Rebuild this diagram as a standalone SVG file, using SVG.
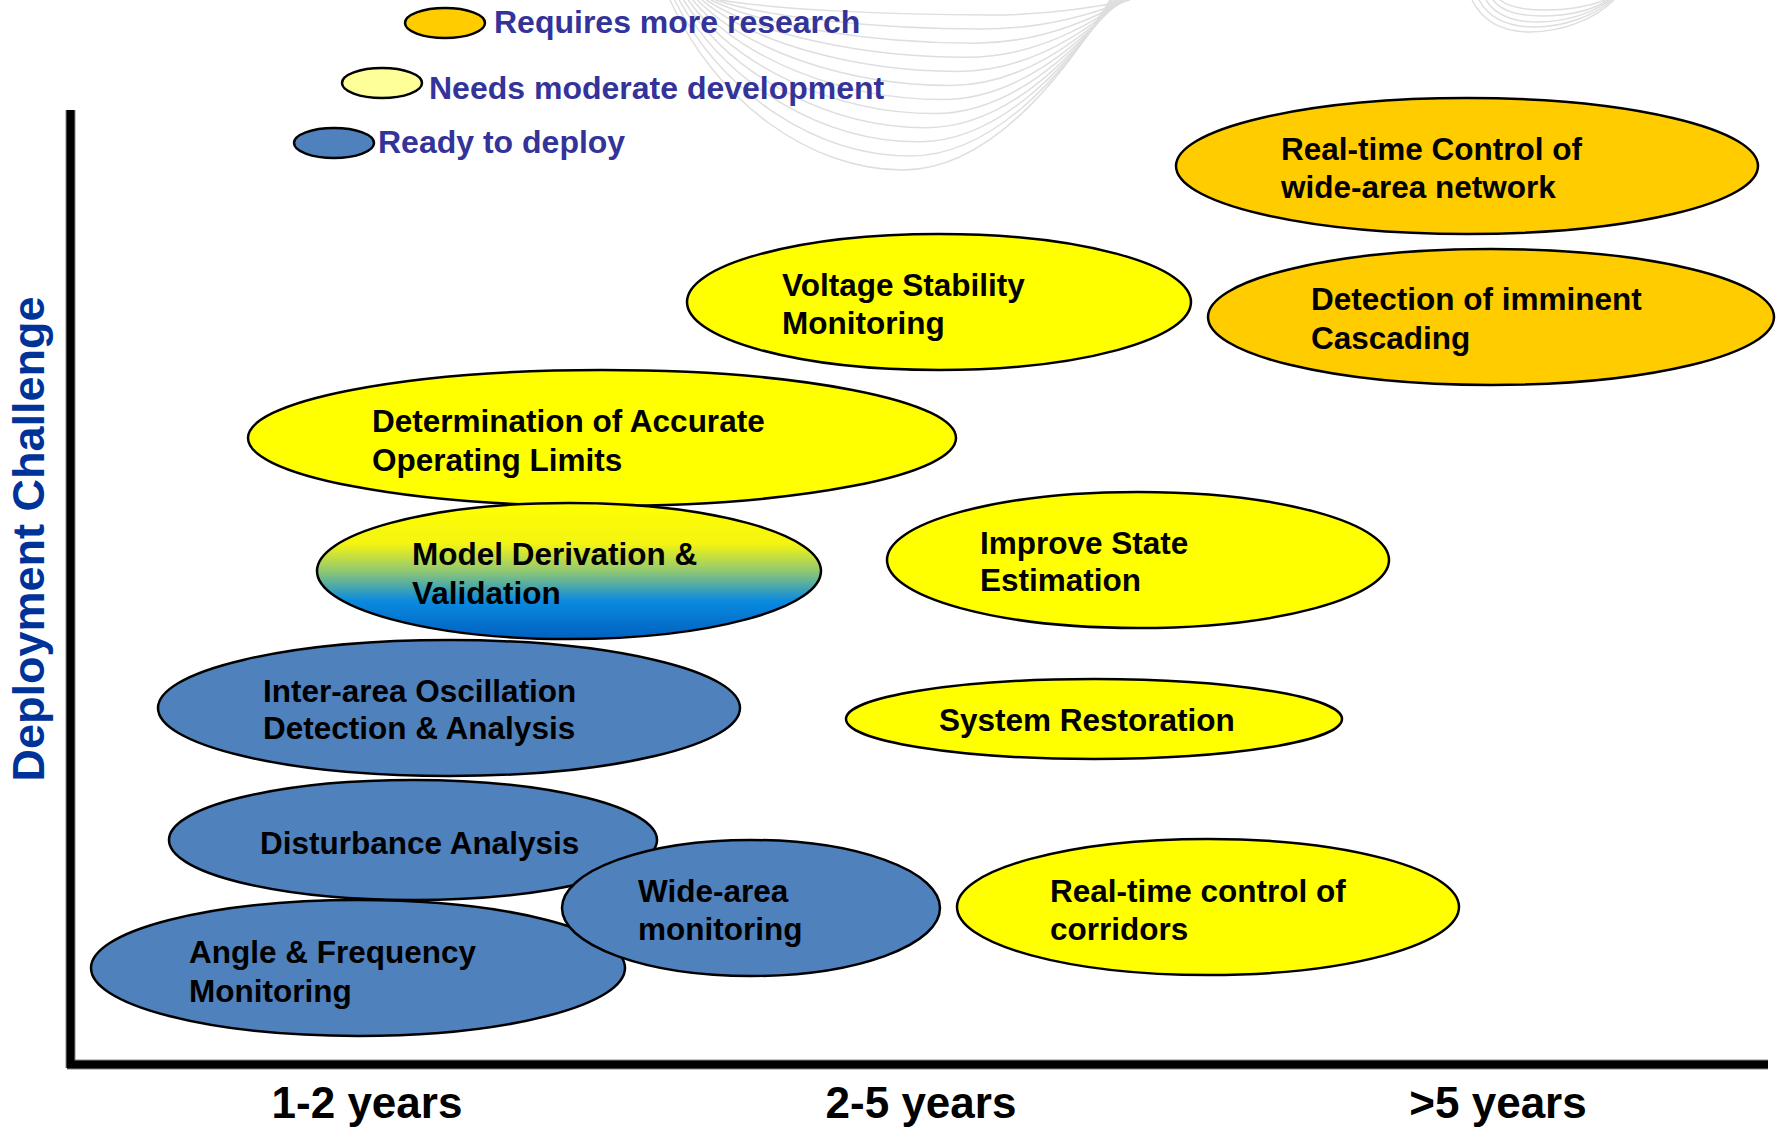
<svg xmlns="http://www.w3.org/2000/svg" width="1783" height="1128" viewBox="0 0 1783 1128">
<defs>
<style>
.bg{fill:none;stroke:#dedede;stroke-width:1.5}
.node ellipse{stroke:#000;stroke-width:2.5}
.blue{fill:#4F81BD}
.yel{fill:#FFFF00}
.org{fill:#FFCC00}
.pale{fill:#FFFF99}
.lbl{font-family:"Liberation Sans",Arial,sans-serif;font-weight:bold;font-size:31.5px;fill:#000}
.leg{font-family:"Liberation Sans",Arial,sans-serif;font-weight:bold;font-size:32px;fill:#333399}
.ax{font-family:"Liberation Sans",Arial,sans-serif;font-weight:bold;font-size:44px;fill:#000;text-anchor:middle}
</style>
<linearGradient id="gmix" x1="0" y1="0" x2="0" y2="1">
<stop offset="0" stop-color="#FFFF00"/>
<stop offset="0.3" stop-color="#F4F412"/>
<stop offset="0.5" stop-color="#90C872"/>
<stop offset="0.72" stop-color="#0A8AE0"/>
<stop offset="1" stop-color="#0060C0"/>
</linearGradient>
</defs>
<rect width="1783" height="1128" fill="#fff"/>
<g id="background-lines">
<path class="bg" d="M720,0 C774,9 882,15 990,15 C1046,15 1095,7.5 1130,0"/>
<path class="bg" d="M715.5,0 C768.8,17.5 875.5,29.1 982.1,29.1 C1040.5,29.1 1091.7,14.6 1128.2,0"/>
<path class="bg" d="M710.9,0 C763.6,25.9 868.9,43.2 974.2,43.2 C1035.1,43.2 1088.4,21.6 1126.4,0"/>
<path class="bg" d="M706.4,0 C758.4,34.4 862.3,57.3 966.3,57.3 C1029.6,57.3 1085,28.7 1124.5,0"/>
<path class="bg" d="M701.8,0 C753.1,42.8 855.8,71.4 958.4,71.4 C1024.1,71.4 1081.6,35.7 1122.7,0"/>
<path class="bg" d="M697.3,0 C747.9,51.3 849.2,85.5 950.5,85.5 C1018.7,85.5 1078.3,42.8 1120.9,0"/>
<path class="bg" d="M692.7,0 C742.7,59.7 842.6,99.5 942.5,99.5 C1013.1,99.5 1075,49.8 1119.1,0"/>
<path class="bg" d="M688.2,0 C737.5,68.2 836,113.6 934.6,113.6 C1007.7,113.6 1071.6,56.8 1117.3,0"/>
<path class="bg" d="M683.6,0 C732.2,76.6 829.5,127.7 926.7,127.7 C1002.2,127.7 1068.3,63.9 1115.5,0"/>
<path class="bg" d="M679.1,0 C727,85.1 822.9,141.8 918.8,141.8 C996.7,141.8 1064.9,70.9 1113.6,0"/>
<path class="bg" d="M674.5,0 C721.8,93.5 816.3,155.9 910.9,155.9 C991.3,155.9 1061.6,78 1111.8,0"/>
<path class="bg" d="M670,0 C716.6,102 809.8,170 903,170 C985.8,170 1058.3,85 1110,0"/>
<path class="bg" d="M1500,0 C1510,8 1530,10 1545,10 C1570,10 1590,6 1605,0"/>
<path class="bg" d="M1493,0 C1503,13 1525,16 1542,16 C1568,16 1592,10 1608,0"/>
<path class="bg" d="M1486,0 C1497,18 1520,22 1538,22 C1566,22 1593,13 1610,0"/>
<path class="bg" d="M1479,0 C1491,22 1515,27 1534,27 C1564,27 1594,16 1612,0"/>
<path class="bg" d="M1472,0 C1485,26 1510,32 1530,32 C1562,32 1595,19 1614,0"/>
</g>
<g id="legend">
<g id="legend-research" class="node"><ellipse class="org" cx="445" cy="23" rx="40" ry="15"/><text class="leg" x="494" y="33">Requires more research</text></g>
<g id="legend-moderate" class="node"><ellipse class="pale" cx="382" cy="83" rx="40" ry="15"/><text class="leg" x="429" y="99">Needs moderate development</text></g>
<g id="legend-ready" class="node"><ellipse class="blue" cx="334" cy="143" rx="40" ry="15"/><text class="leg" x="378" y="153">Ready to deploy</text></g>
</g>
<g id="axes">
<line x1="70.5" y1="110" x2="70.5" y2="1068" stroke="#888" stroke-width="10"/>
<line x1="67" y1="1064.5" x2="1768" y2="1064.5" stroke="#888" stroke-width="10"/>
<line x1="70.5" y1="110" x2="70.5" y2="1068" stroke="#000" stroke-width="8"/>
<line x1="67" y1="1064.5" x2="1768" y2="1064.5" stroke="#000" stroke-width="8"/>
<text class="ax" x="367" y="1118">1-2 years</text>
<text class="ax" x="921" y="1118">2-5 years</text>
<text class="ax" x="1498" y="1118">&gt;5 years</text>
<text transform="translate(44,539) rotate(-90)" text-anchor="middle" font-family="Liberation Sans, Arial, sans-serif" font-weight="bold" font-size="45" fill="#003399">Deployment Challenge</text>
</g>
<g id="node-realtime-wan" class="node"><ellipse class="org" cx="1467" cy="166" rx="291" ry="68"/><text class="lbl" x="1281" y="160">Real-time Control of</text><text class="lbl" x="1281" y="198">wide-area network</text></g>
<g id="node-cascading" class="node"><ellipse class="org" cx="1491" cy="317" rx="283" ry="68"/><text class="lbl" x="1311" y="310">Detection of imminent</text><text class="lbl" x="1311" y="349">Cascading</text></g>
<g id="node-voltage" class="node"><ellipse class="yel" cx="939" cy="302" rx="252" ry="68"/><text class="lbl" x="782" y="296">Voltage Stability</text><text class="lbl" x="782" y="334">Monitoring</text></g>
<g id="node-limits" class="node"><ellipse class="yel" cx="602" cy="438" rx="354" ry="68"/><text class="lbl" x="372" y="432">Determination of Accurate</text><text class="lbl" x="372" y="471">Operating Limits</text></g>
<g id="node-model" class="node"><ellipse fill="url(#gmix)" cx="569" cy="571" rx="252" ry="68"/><text class="lbl" x="412" y="565">Model Derivation &amp;</text><text class="lbl" x="412" y="604">Validation</text></g>
<g id="node-state" class="node"><ellipse class="yel" cx="1138" cy="560" rx="251" ry="68"/><text class="lbl" x="980" y="554">Improve State</text><text class="lbl" x="980" y="591">Estimation</text></g>
<g id="node-interarea" class="node"><ellipse class="blue" cx="449" cy="708" rx="291" ry="68"/><text class="lbl" x="263" y="702">Inter-area Oscillation</text><text class="lbl" x="263" y="739">Detection &amp; Analysis</text></g>
<g id="node-restoration" class="node"><ellipse class="yel" cx="1094" cy="719" rx="248" ry="40"/><text class="lbl" x="939" y="731">System Restoration</text></g>
<g id="node-disturbance" class="node"><ellipse class="blue" cx="413" cy="840" rx="244" ry="60"/><text class="lbl" x="260" y="854">Disturbance Analysis</text></g>
<g id="node-angle" class="node"><ellipse class="blue" cx="358" cy="968" rx="267" ry="68"/><text class="lbl" x="189" y="963">Angle &amp; Frequency</text><text class="lbl" x="189" y="1002">Monitoring</text></g>
<g id="node-widearea" class="node"><ellipse class="blue" cx="751" cy="908" rx="189" ry="68"/><text class="lbl" x="638" y="902">Wide-area</text><text class="lbl" x="638" y="940">monitoring</text></g>
<g id="node-corridors" class="node"><ellipse class="yel" cx="1208" cy="907" rx="251" ry="68"/><text class="lbl" x="1050" y="902">Real-time control of</text><text class="lbl" x="1050" y="940">corridors</text></g>
<g id="connectors"></g>
</svg>
